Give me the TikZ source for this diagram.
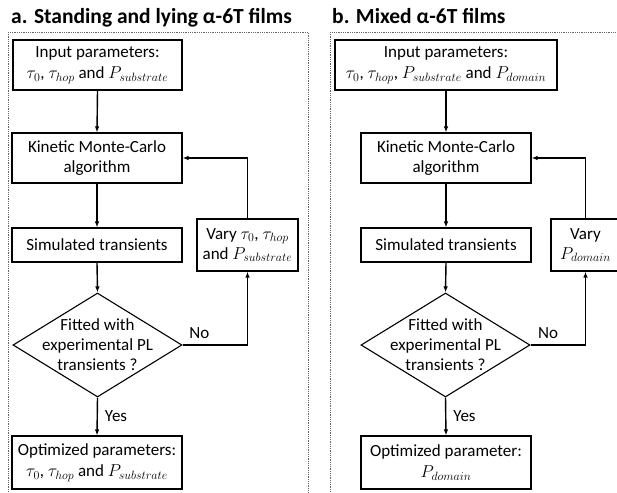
\documentclass[tikz,border=0pt]{standalone}
\usepackage{fontspec}
\setmainfont{Carlito}
\DeclareMathSizes{17}{17}{13}{10}
\usetikzlibrary{arrows.meta,shapes.geometric}
\begin{document}
\begin{tikzpicture}[x=1pt,y=-1pt,
  box/.style={draw, line width=1.1pt, rectangle, inner sep=0pt, align=center, font=\fontsize{17}{20}\selectfont},
  dia/.style={draw, line width=1.1pt, diamond, inner sep=0pt, minimum width=169pt, minimum height=104pt},
  txt/.style={align=center, font=\fontsize{17}{20}\selectfont, inner sep=0pt},
  flow/.style={line width=1.4pt, -{Latex[length=6pt,width=4.5pt]}},
  frame/.style={draw=black!60, line width=0.8pt, densely dotted},
  title/.style={font=\fontsize{21.5}{24}\selectfont\bfseries, inner sep=0pt, anchor=base west}
]
\useasboundingbox (0,0) rectangle (617,492);
\clip (0,0) rectangle (617,492);

% frames
\draw[frame] (8,32) rectangle (308,520);
\draw[frame] (330,32) rectangle (640,520);

% titles
\node[title] (ta) at (11,24) {a. Standing and lying α-6T films};
\node[title] (tb) at (332,24) {b. Mixed α-6T films};

% panel a
\node[box, minimum width=169pt, minimum height=50pt] (inA) at (97.5,65) {Input parameters:\\[1pt]$\tau_0$, $\tau_{hop}$ and $P_{substrate}$};
\node[box, minimum width=170pt, minimum height=50pt] (kmcA) at (97,158) {Kinetic Monte-Carlo\\algorithm};
\node[box, minimum width=170pt, minimum height=34pt] (simA) at (97,245) {Simulated transients};
\node[dia] (decA) at (97.5,345) {};
\node[txt] (decAt) at (97.5,345) {Fitted with\\experimental PL\\transients ?};
\node[box, minimum width=170pt, minimum height=53pt] (optA) at (97,462.5) {Optimized parameters:\\[1pt]$\tau_0$, $\tau_{hop}$ and $P_{substrate}$};
\node[box, minimum width=101pt, minimum height=52pt] (varyA) at (247.5,245) {Vary $\tau_0$, $\tau_{hop}$\\and $P_{substrate}$};

\draw[flow] (inA.south) -- (kmcA.north);
\draw[flow] (kmcA.south) -- (simA.north);
\draw[flow] (simA.south) -- (decA.north);
\draw[flow] (decA.south) -- node[txt, anchor=west, xshift=7pt] {Yes} (optA.north);
\draw[flow] (decA.east) -| node[txt, pos=0.13, anchor=south, yshift=6pt] {No} (varyA.south);
\draw[flow] (varyA.north) |- (kmcA.east);

% panel b
\node[box, minimum width=222pt, minimum height=50pt] (inB) at (446,65) {Input parameters:\\[1pt]$\tau_0$, $\tau_{hop}$, $P_{substrate}$ and $P_{domain}$};
\node[box, minimum width=170pt, minimum height=50pt] (kmcB) at (446,158) {Kinetic Monte-Carlo\\algorithm};
\node[box, minimum width=170pt, minimum height=34pt] (simB) at (446,245) {Simulated transients};
\node[dia] (decB) at (445.5,345) {};
\node[txt] (decBt) at (445.5,345) {Fitted with\\experimental PL\\transients ?};
\node[box, minimum width=170pt, minimum height=53pt] (optB) at (446,462.5) {Optimized parameter:\\[1pt]$P_{domain}$};
\node[box, minimum width=69pt, minimum height=52pt] (varyB) at (585.5,245) {Vary\\$P_{domain}$};

\draw[flow] (inB.south) -- (kmcB.north);
\draw[flow] (kmcB.south) -- (simB.north);
\draw[flow] (simB.south) -- (decB.north);
\draw[flow] (decB.south) -- node[txt, anchor=west, xshift=7pt] {Yes} (optB.north);
\draw[flow] (decB.east) -| node[txt, pos=0.16, anchor=south, yshift=6pt] {No} (varyB.south);
\draw[flow] (varyB.north) |- (kmcB.east);
\end{tikzpicture}
\end{document}
